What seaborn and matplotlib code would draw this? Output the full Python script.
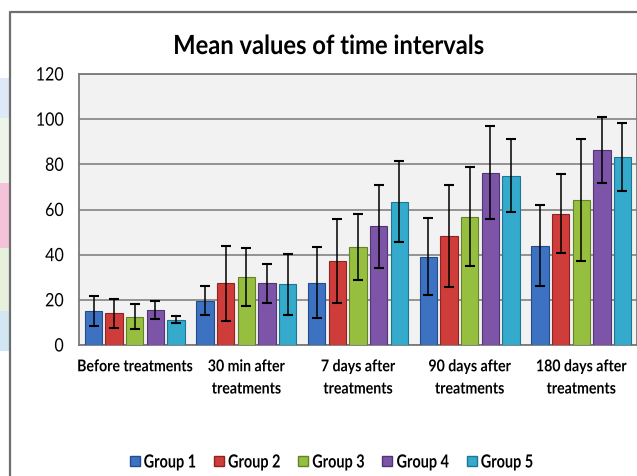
import matplotlib
matplotlib.use("Agg")
import matplotlib.pyplot as plt
from matplotlib.lines import Line2D
from matplotlib.patches import Rectangle
from matplotlib.patheffects import AbstractPathEffect
from matplotlib.transforms import Affine2D
import pandas as pd
import seaborn as sns

# ---- data ----
categories = ["Before treatments", "30 min after\ntreatments", "7 days after\ntreatments",
              "90 days after\ntreatments", "180 days after\ntreatments"]
groups = ["Group 1", "Group 2", "Group 3", "Group 4", "Group 5"]

g1_mean = [15.0, 19.7, 27.6, 39.1, 44.0]
g2_mean = [14.0, 27.3, 37.2, 48.4, 58.2]
g3_mean = [12.5, 30.1, 43.5, 56.9, 64.4]
g4_mean = [15.4, 27.3, 52.5, 76.3, 86.3]
g5_mean = [11.2, 26.9, 63.5, 74.9, 83.1]

g1_sd = [6.7, 6.3, 15.7, 17.0, 17.9]
g2_sd = [6.5, 16.5, 18.8, 22.6, 17.4]
g3_sd = [5.5, 13.0, 14.7, 21.7, 27.0]
g4_sd = [3.9, 8.6, 18.3, 20.6, 14.6]
g5_sd = [1.6, 13.6, 18.0, 16.2, 15.0]

colors = ["#3d72c3", "#cf3d3a", "#97bf3f", "#7d55a8", "#34aacc"]
edges = ["#234c8a", "#8e2322", "#63832a", "#523672", "#1f7592"]

means = [g1_mean, g2_mean, g3_mean, g4_mean, g5_mean]
sds = [g1_sd, g2_sd, g3_sd, g4_sd, g5_sd]

rows = []
for g, m in zip(groups, means):
    for c, v in zip(categories, m):
        rows.append({"interval": c, "group": g, "value": v})
df = pd.DataFrame(rows)


class Squeeze(AbstractPathEffect):
    """Draw text a bit condensed (the source chart uses a narrow font)."""
    def __init__(self, sx, anchor="center"):
        super().__init__()
        self.sx = sx
        self.anchor = anchor

    def draw_path(self, renderer, gc, tpath, affine, rgbFace=None):
        ext = tpath.get_extents()
        if self.anchor == "right":
            cx = ext.x1
        elif self.anchor == "left":
            cx = ext.x0
        else:
            cx = (ext.x0 + ext.x1) / 2
        aff = Affine2D().translate(-cx, 0).scale(self.sx, 1).translate(cx, 0) + affine
        renderer.draw_path(gc, tpath, aff, rgbFace)


# ---- style ----
sns.set_theme(style="white")
plt.rcParams['font.family'] = ['Lato', 'DejaVu Sans']
plt.rcParams['text.color'] = 'black'

fig = plt.figure(figsize=(6.37, 4.76), dpi=100)
ax = fig.add_axes([79 / 637, 1 - 345 / 476, 558 / 637, (345 - 74) / 476])
ax.set_facecolor("#f2f2f2")

sns.barplot(data=df, x="interval", y="value", hue="group", palette=colors, saturation=1,
            width=0.925, gap=0.16, errorbar=None, legend=False, ax=ax, zorder=3)

# error bars (mean +/- sd) on top of each bar
for cont, sd, ec in zip(ax.containers, sds, edges):
    xs = [b.get_x() + b.get_width() / 2 for b in cont]
    ys = [b.get_height() for b in cont]
    for b in cont:
        b.set_edgecolor(ec)
        b.set_linewidth(0.8)
    ax.errorbar(xs, ys, yerr=sd, fmt="none", ecolor="black", elinewidth=1.1,
                capsize=3.3, capthick=1.5, zorder=4)

ax.set_xlim(-0.5, 4.5)
ax.set_ylim(0, 120)
ax.set_yticks(range(0, 121, 20))
ax.yaxis.grid(True, color="#8c8c8c", linewidth=1.3, zorder=0)
ax.set_axisbelow(True)
for s in ax.spines.values():
    s.set_color("#7a7a7a")
    s.set_linewidth(1.3)
ax.set_xlabel("")
ax.set_ylabel("")
ax.tick_params(axis="y", length=0, pad=11, labelsize=13.3, labelcolor="black")
ax.tick_params(axis="x", length=0, pad=11, labelsize=11.7, labelcolor="black")
for t in ax.get_xticklabels():
    t.set_fontweight("bold")
    t.set_linespacing(1.75)
    t.set_path_effects([Squeeze(0.87, "center")])
for t in ax.get_yticklabels():
    t.set_path_effects([Squeeze(0.87, "right")])

title = fig.text(328 / 637, 1 - 46 / 476, "Mean values of time intervals", ha="center",
                 va="center", fontsize=19, fontweight="bold")
title.set_path_effects([Squeeze(0.9, "center")])

# legend
handles = [Line2D([], [], marker="s", linestyle="none", markersize=6.5,
                  markerfacecolor=c, markeredgecolor=e) for c, e in zip(colors, edges)]
leg = fig.legend(handles, groups, loc="center", bbox_to_anchor=(338 / 637, 1 - 462 / 476),
                 ncol=5, frameon=False, handlelength=0.5, handletextpad=0.25,
                 columnspacing=0.3, prop={"weight": "bold", "size": 13})
for t in leg.get_texts():
    t.set_path_effects([Squeeze(0.8, "left")])

# chart frame and slide strips on the left
fig.add_artist(Line2D([10 / 637, 10 / 637, 1], [0, 1 - 12 / 476, 1 - 12 / 476],
                      color="#6e6e6e", linewidth=1.6, transform=fig.transFigure))
strips = [(78, 118, "#dde9f6"), (118, 183, "#eef5e8"), (183, 248, "#f5c3d9"),
          (248, 311, "#e6f0dc"), (311, 351, "#d3e6f4")]
for y0, y1, col in strips:
    fig.add_artist(Rectangle((0, 1 - y1 / 476), 9 / 637, (y1 - y0) / 476,
                             facecolor=col, edgecolor="none", transform=fig.transFigure))

fig.savefig("out.png", dpi=100)
